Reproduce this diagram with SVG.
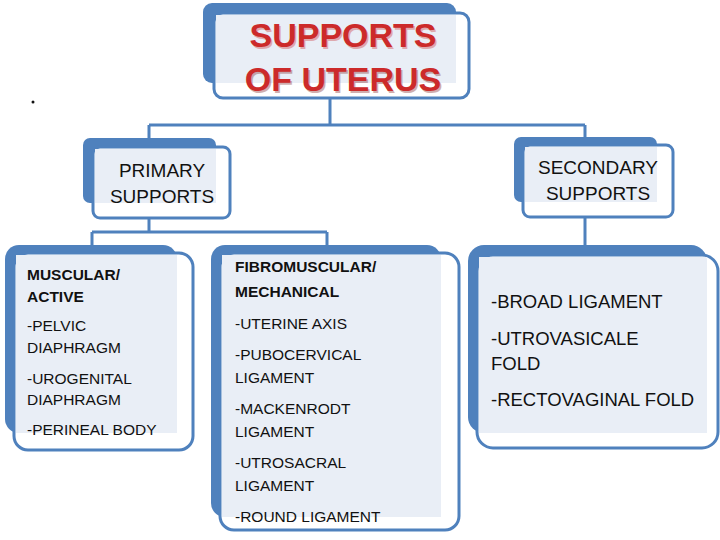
<svg xmlns="http://www.w3.org/2000/svg" width="720" height="540" viewBox="0 0 720 540">
<style>
.bk{fill:#4f81bd}
.fr{fill:#fff;stroke:#4f81bd;stroke-width:3}
.lt{fill:#e9eef6}
.c{fill:none;stroke:#4f81bd;stroke-width:3}
text{font-family:"Liberation Sans",Arial,sans-serif;fill:#111}
.b{font-weight:bold}
.t{font-weight:bold;font-size:34px;fill:#cc2a2a;text-anchor:middle}
.h{font-size:19px;text-anchor:middle}
.s{font-size:15.5px}
.l{font-size:18.5px}
</style>
<rect width="720" height="540" fill="#fff"/>
<circle cx="33" cy="102" r="1.5" fill="#111"/>
<g id="connectors">
<path class="c" d="M330 98V125M149 125H585M149 125V138M585 125V137"/>
<path class="c" d="M149 218V232M92 232H327M92 232V246M327 232V246"/>
<path class="c" d="M585 217V246"/>
</g>
<g id="title">
<rect class="bk" x="203" y="3" width="253" height="80" rx="9"/>
<rect class="fr" x="214" y="13" width="255" height="85" rx="9"/>
<rect class="lt" x="216" y="15" width="240" height="68"/>
<text class="t" x="343" y="47" fill="#7a1a1a" opacity="0.35" dx="1.5" dy="1.5">SUPPORTS</text>
<text class="t" x="343" y="47">SUPPORTS</text>
<text class="t" x="343" y="91" opacity="0.35" dx="1.5" dy="1.5" style="fill:#7a1a1a">OF UTERUS</text>
<text class="t" x="343" y="91">OF UTERUS</text>
</g>
<g id="primary">
<rect class="bk" x="83" y="138" width="133" height="65" rx="7"/>
<rect class="fr" x="93" y="147" width="137" height="71" rx="7"/>
<rect class="lt" x="95" y="149" width="121" height="54"/>
<text class="h" x="162" y="177">PRIMARY</text>
<text class="h" x="162" y="203">SUPPORTS</text>
</g>
<g id="secondary">
<rect class="bk" x="514" y="137" width="143" height="65" rx="7"/>
<rect class="fr" x="523" y="145" width="150" height="72" rx="7"/>
<rect class="lt" x="525" y="147" width="132" height="55"/>
<text class="h" x="598" y="174">SECONDARY</text>
<text class="h" x="598" y="200">SUPPORTS</text>
</g>
<g id="muscular">
<rect class="bk" x="5" y="245" width="172" height="188" rx="14"/>
<rect class="fr" x="14" y="253" width="179" height="197" rx="14"/>
<rect class="lt" x="16" y="255" width="161" height="178"/>
<text class="s b" x="27" y="280">MUSCULAR/</text>
<text class="s b" x="27" y="302">ACTIVE</text>
<text class="s" x="27" y="331">-PELVIC</text>
<text class="s" x="27" y="353">DIAPHRAGM</text>
<text class="s" x="27" y="384">-UROGENITAL</text>
<text class="s" x="27" y="405">DIAPHRAGM</text>
<text class="s" x="27" y="435">-PERINEAL BODY</text>
</g>
<g id="fibromuscular">
<rect class="bk" x="211" y="245" width="230" height="272" rx="14"/>
<rect class="fr" x="220" y="253" width="239" height="277" rx="14"/>
<rect class="lt" x="222" y="255" width="219" height="262"/>
<text class="s b" x="235" y="272">FIBROMUSCULAR/</text>
<text class="s b" x="235" y="297">MECHANICAL</text>
<text class="s" x="235" y="329">-UTERINE AXIS</text>
<text class="s" x="235" y="360">-PUBOCERVICAL</text>
<text class="s" x="235" y="383">LIGAMENT</text>
<text class="s" x="235" y="414">-MACKENRODT</text>
<text class="s" x="235" y="437">LIGAMENT</text>
<text class="s" x="235" y="468">-UTROSACRAL</text>
<text class="s" x="235" y="491">LIGAMENT</text>
<text class="s" x="235" y="522">-ROUND LIGAMENT</text>
</g>
<g id="secondary-list">
<rect class="bk" x="468" y="245" width="239" height="188" rx="16"/>
<rect class="fr" x="477" y="255" width="241" height="193" rx="16"/>
<rect class="lt" x="479" y="257" width="228" height="176"/>
<text class="l" x="491" y="308">-BROAD LIGAMENT</text>
<text class="l" x="491" y="345">-UTROVASICALE</text>
<text class="l" x="491" y="370">FOLD</text>
<text class="l" x="491" y="406">-RECTOVAGINAL FOLD</text>
</g>
</svg>
